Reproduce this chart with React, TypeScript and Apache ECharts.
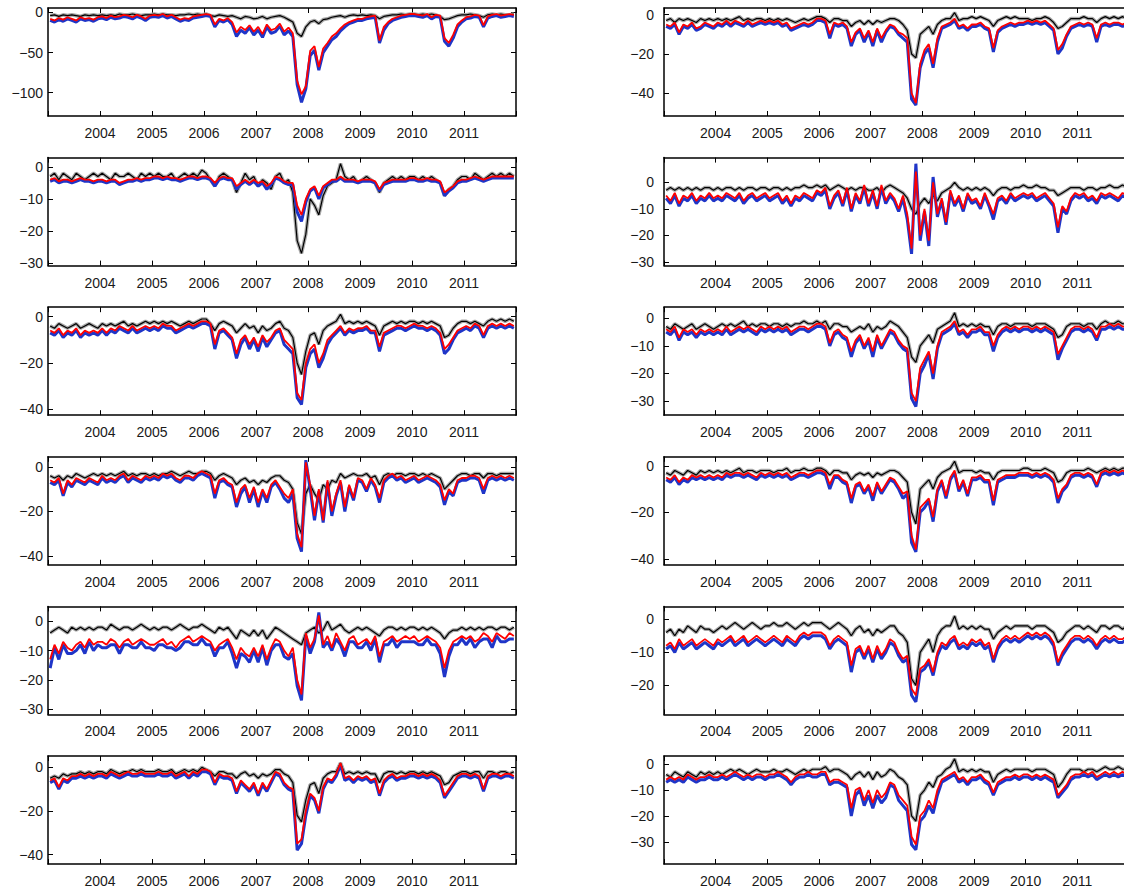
import React, { useEffect, useRef } from "react";
import * as echarts from "echarts";

// Monthly readings, Jan 2003 .. Dec 2011 (108 values each)
const YEAR_TICKS = [2004, 2005, 2006, 2007, 2008, 2009, 2010, 2011];

const L1_BLACK = [-4,-3,-5,-3,-4,-3,-4,-5,-3,-4,-3,-4, -3,-4,-3,-4,-2,-3,-3,-2,-3,-4,-3,-3, -2,-3,-2,-3,-3,-4,-3,-3,-2,-3,-2,-3, -2,-4,-5,-3,-4,-5,-4,-6,-8,-5,-6,-8, -7,-5,-8,-6,-5,-4,-6,-9,-12,-26,-30,-18, -12,-10,-14,-9,-8,-6,-5,-4,-6,-4,-3,-4, -3,-4,-3,-4,-8,-5,-4,-3,-3,-2,-3,-2, -2,-3,-2,-3,-2,-3,-5,-9,-8,-6,-4,-3, -3,-2,-3,-4,-6,-3,-2,-3,-2,-3,-3,-2];
const L1_RED = [-8,-10,-7,-9,-6,-8,-10,-6,-8,-7,-9,-6, -5,-7,-4,-6,-5,-3,-4,-6,-3,-5,-8,-4, -3,-4,-2,-5,-3,-6,-9,-7,-8,-5,-4,-3, -2,-3,-15,-8,-10,-7,-12,-25,-18,-22,-16,-24, -18,-27,-15,-22,-20,-14,-24,-19,-26,-85,-102,-92, -48,-42,-68,-45,-38,-30,-26,-20,-15,-12,-10,-8, -8,-6,-5,-4,-35,-18,-12,-8,-6,-4,-3,-2, -2,-3,-4,-2,-6,-3,-4,-32,-38,-28,-15,-10, -6,-5,-3,-4,-16,-5,-3,-2,-4,-3,-2,-3];
const L1_BLUE = [-10,-12,-9,-11,-8,-10,-12,-8,-10,-9,-11,-8, -7,-9,-6,-8,-7,-5,-6,-8,-5,-7,-10,-6, -5,-6,-4,-7,-5,-8,-11,-9,-10,-7,-6,-5, -4,-5,-18,-10,-12,-9,-15,-30,-22,-26,-19,-28, -22,-31,-18,-26,-24,-17,-28,-23,-30,-90,-112,-95, -54,-47,-72,-50,-42,-34,-30,-23,-18,-14,-12,-10, -10,-8,-7,-6,-38,-22,-14,-10,-8,-6,-5,-4, -4,-5,-6,-4,-8,-5,-6,-36,-42,-32,-18,-12, -8,-7,-5,-6,-18,-7,-5,-4,-6,-5,-4,-5];

const L2_BLACK = [-3,-2,-4,-2,-3,-4,-2,-3,-4,-3,-2,-3, -2,-3,-4,-2,-3,-3,-2,-3,-4,-2,-3,-2, -3,-2,-3,-3,-2,-4,-3,-2,-3,-2,-3,-1, -2,-4,-6,-3,-2,-3,-4,-8,-5,-2,-4,-3, -6,-4,-5,-7,-3,-2,-5,-4,-8,-23,-27,-21, -10,-12,-15,-9,-6,-5,-4,1,-3,-4,-3,-5, -4,-3,-4,-5,-8,-5,-4,-3,-4,-3,-4,-3, -3,-4,-3,-4,-3,-4,-5,-9,-7,-6,-4,-3, -3,-4,-2,-3,-4,-3,-2,-3,-2,-3,-2,-3];
const L2_RED = [-4,-3.5,-4.5,-4,-4,-4.5,-4,-3.5,-4,-4,-4.5,-4, -4,-4.5,-4,-4,-5,-4.5,-4,-4,-3.5,-4,-3.5,-3.5, -3,-3,-3.5,-3,-3.5,-3.5,-4,-3.5,-3,-3,-3.5,-3, -3,-3.5,-5,-3.5,-3,-3.5,-3.5,-6,-5,-4,-5,-4, -5,-4.5,-6,-5,-3,-3.5,-4.5,-5,-5,-12,-15,-10, -7,-6,-9,-6,-5,-4,-4,-3,-4,-4,-4,-4.5, -4,-4,-4,-4.5,-7,-5,-4.5,-4,-4,-4,-4,-3.5, -3.5,-4,-4,-3.5,-4,-4,-4.5,-8,-7,-6,-4.5,-4, -4,-3.5,-3,-3.5,-4,-3.5,-3,-3,-3,-3,-3,-3];
const L2_BLUE = [-4.5,-4,-5,-4.5,-4.5,-5,-4.5,-4,-4.5,-4.5,-5,-4.5, -4.5,-5,-4.5,-4.5,-5.5,-5,-4.5,-4.5,-4,-4.5,-4,-4, -3.5,-3.5,-4,-3.5,-4,-4,-4.5,-4,-3.5,-3.5,-4,-3.5, -3.5,-4,-6,-4,-3.5,-4,-4,-7,-5.5,-4.5,-5.5,-4.5, -6,-5,-7,-5.5,-3.5,-4,-5,-5.5,-5.5,-14,-17,-11, -7.5,-6.5,-10,-6.5,-5.5,-4.5,-4.5,-3.5,-4.5,-4.5,-4.5,-5, -4.5,-4.5,-4.5,-5,-7.5,-5.5,-5,-4.5,-4.5,-4.5,-4.5,-4, -4,-4.5,-4.5,-4,-4.5,-4.5,-5,-9,-7.5,-6.5,-5,-4.5, -4.5,-4,-3.5,-4,-4.5,-4,-3.5,-3.5,-3.5,-3.5,-3.5,-3.5];

const L3_BLACK = [-4,-5,-3,-4,-5,-4,-3,-5,-4,-3,-4,-5, -3,-4,-3,-4,-3,-2,-4,-3,-4,-3,-2,-3, -2,-3,-2,-3,-2,-3,-4,-3,-2,-3,-2,-1, -1,-3,-6,-3,-2,-3,-4,-7,-5,-3,-5,-4, -7,-4,-6,-5,-3,-2,-5,-6,-9,-20,-25,-15, -8,-7,-12,-6,-4,-3,-2,1,-3,-2,-3,-2, -3,-2,-3,-4,-8,-4,-3,-2,-3,-2,-3,-2, -2,-3,-2,-3,-2,-3,-4,-9,-8,-5,-3,-2, -2,-3,-2,-3,-4,-2,-1,-2,-1,-2,-1,-2];
const L3_RED = [-6,-7,-5,-8,-6,-7,-5,-8,-6,-7,-6,-7, -5,-7,-5,-6,-4,-5,-6,-4,-6,-5,-4,-5, -4,-5,-3,-4,-4,-6,-5,-4,-3,-4,-3,-2, -2,-3,-12,-6,-5,-7,-9,-16,-10,-8,-12,-9, -13,-8,-11,-9,-6,-5,-10,-12,-14,-33,-36,-20, -14,-12,-20,-16,-10,-8,-6,-4,-7,-5,-6,-5, -5,-4,-6,-6,-13,-7,-6,-5,-4,-4,-5,-4, -3,-4,-4,-5,-4,-5,-7,-14,-12,-9,-6,-5, -4,-5,-3,-4,-8,-4,-3,-4,-3,-4,-3,-4];
const L3_BLUE = [-7,-8,-6,-9,-7,-8,-6,-9,-7,-8,-7,-8, -6,-8,-6,-7,-5,-6,-7,-5,-7,-6,-5,-6, -5,-6,-4,-5,-5,-7,-6,-5,-4,-5,-4,-3, -3,-4,-14,-7,-6,-8,-10,-18,-12,-9,-14,-10, -15,-9,-13,-10,-7,-6,-12,-14,-16,-35,-38,-22, -16,-14,-22,-18,-12,-9,-7,-5,-8,-6,-7,-6, -6,-5,-7,-7,-15,-8,-7,-6,-5,-5,-6,-5, -4,-5,-5,-6,-5,-6,-8,-16,-14,-10,-7,-6, -5,-6,-4,-5,-9,-5,-4,-5,-4,-5,-4,-5];

const L4_BLACK = [-4,-5,-4,-6,-4,-5,-3,-4,-5,-4,-3,-4, -3,-4,-3,-4,-3,-2,-4,-3,-4,-3,-3,-4, -3,-4,-3,-3,-2,-3,-4,-3,-2,-3,-3,-2, -2,-3,-6,-4,-3,-4,-5,-8,-6,-5,-7,-6, -8,-6,-7,-5,-4,-4,-6,-7,-10,-25,-30,-12, -8,-12,-15,-8,-10,-6,-7,-3,-5,-4,-3,-4, -4,-3,-5,-4,-8,-4,-3,-4,-3,-3,-4,-3, -3,-4,-3,-4,-3,-4,-5,-10,-8,-6,-4,-3, -3,-4,-3,-3,-5,-3,-3,-4,-3,-3,-3,-3];
const L4_RED = [-6,-7,-5,-12,-6,-8,-5,-6,-7,-5,-6,-7, -4,-6,-5,-6,-4,-3,-6,-4,-5,-6,-4,-5, -4,-5,-3,-4,-3,-5,-6,-4,-4,-5,-3,-2, -3,-4,-12,-6,-5,-7,-8,-16,-10,-8,-14,-9, -16,-10,-14,-8,-6,-9,-12,-14,-10,-30,-36,2, -8,-22,-10,-24,-6,-20,-12,-6,-18,-8,-14,-5, -6,-10,-5,-8,-14,-6,-4,-3,-5,-4,-6,-5, -4,-6,-5,-4,-5,-6,-8,-15,-10,-12,-6,-5, -5,-4,-4,-5,-10,-5,-4,-5,-4,-5,-4,-5];
const L4_BLUE = [-7,-8,-6,-13,-7,-9,-6,-7,-8,-6,-7,-8, -5,-7,-6,-7,-5,-4,-7,-5,-6,-7,-5,-6, -5,-6,-4,-5,-4,-6,-7,-5,-5,-6,-4,-3, -4,-5,-14,-7,-6,-8,-9,-18,-12,-9,-16,-10, -18,-11,-16,-9,-7,-10,-14,-16,-12,-32,-38,3, -10,-24,-11,-25,-7,-22,-13,-7,-20,-9,-15,-6, -7,-11,-6,-9,-16,-7,-5,-4,-6,-5,-7,-6, -5,-7,-6,-5,-6,-7,-9,-17,-11,-13,-7,-6, -6,-5,-5,-6,-12,-6,-5,-6,-5,-6,-5,-6];

const L5_BLACK = [-4,-3,-2,-3,-4,-2,-3,-2,-3,-2,-3,-2, -2,-3,-1,-2,-3,-2,-2,-3,-2,-1,-2,-3, -2,-3,-2,-2,-3,-2,-1,-2,-3,-2,-2,-1, -2,-3,-4,-2,-3,-2,-4,-6,-3,-4,-5,-3, -5,-3,-6,-4,-2,-3,-4,-5,-6,-7,-8,-4, -3,-2,-4,-3,0,-3,-2,-1,-3,-4,-3,-2, -3,-2,-3,-4,-5,-3,-2,-2,-3,-2,-3,-2, -2,-3,-2,-3,-2,-3,-4,-6,-4,-3,-3,-2, -3,-2,-3,-2,-3,-2,-2,-3,-2,-2,-3,-2];
const L5_RED = [-13,-8,-11,-7,-9,-10,-8,-7,-9,-6,-8,-7, -7,-8,-6,-7,-9,-7,-6,-8,-7,-6,-7,-8, -8,-7,-6,-8,-7,-9,-7,-6,-5,-7,-6,-5, -6,-7,-10,-8,-7,-6,-9,-13,-9,-11,-12,-9, -12,-8,-13,-9,-6,-7,-10,-12,-9,-20,-25,-4, -9,-6,2,-8,-5,-9,-4,-7,-10,-6,-5,-8, -7,-6,-8,-5,-12,-7,-6,-5,-7,-6,-5,-6, -5,-7,-6,-5,-6,-7,-9,-16,-10,-7,-6,-5, -6,-5,-7,-6,-4,-5,-7,-4,-5,-6,-4,-5];
const L5_BLUE = [-16,-9,-13,-8,-11,-11,-10,-8,-11,-7,-10,-8, -9,-9,-8,-8,-11,-8,-8,-9,-9,-7,-9,-9, -10,-8,-8,-9,-9,-10,-9,-7,-7,-8,-8,-6, -8,-8,-12,-9,-9,-7,-11,-16,-11,-12,-14,-10, -14,-9,-15,-10,-8,-8,-12,-13,-11,-22,-27,-5, -11,-7,3,-9,-7,-10,-6,-8,-12,-7,-7,-9, -9,-7,-10,-6,-14,-8,-8,-6,-9,-7,-7,-7, -7,-8,-8,-6,-8,-8,-11,-19,-12,-8,-8,-6, -8,-6,-9,-7,-6,-6,-9,-5,-7,-7,-6,-6];

const L6_BLACK = [-5,-4,-5,-3,-4,-3,-3,-2,-3,-2,-3,-2, -2,-3,-1,-2,-3,-2,-2,-1,-2,-1,-2,-2, -2,-1,-2,-2,-1,-3,-2,-1,-2,-1,-2,0, -1,-2,-4,-2,-2,-3,-3,-5,-3,-2,-4,-3, -5,-3,-4,-3,-1,-1,-3,-4,-7,-22,-25,-15, -8,-7,-12,-5,-3,-2,-2,2,-3,-2,-3,-2, -3,-2,-3,-3,-7,-3,-2,-2,-3,-2,-3,-2, -2,-3,-2,-3,-2,-3,-4,-8,-7,-4,-3,-2, -2,-3,-2,-2,-5,-2,-2,-3,-2,-2,-3,-2];
const L6_RED = [-6,-5,-9,-5,-6,-4,-4,-3,-4,-3,-4,-3, -3,-4,-2,-3,-4,-3,-2,-3,-3,-2,-3,-3, -3,-2,-3,-3,-2,-4,-3,-2,-4,-2,-3,-1, -1,-2,-7,-3,-4,-4,-5,-11,-6,-8,-10,-7, -12,-7,-10,-6,-2,-3,-7,-9,-10,-35,-33,-20, -12,-14,-20,-9,-5,-6,-3,2,-5,-4,-6,-4, -5,-4,-6,-5,-12,-6,-4,-3,-5,-4,-4,-3, -3,-4,-3,-4,-3,-4,-6,-13,-10,-7,-4,-3, -3,-4,-3,-4,-10,-4,-3,-3,-4,-3,-3,-4];
const L6_BLUE = [-7,-6,-10,-6,-7,-5,-5,-4,-5,-4,-5,-4, -4,-5,-3,-4,-5,-4,-3,-4,-4,-3,-4,-4, -4,-3,-4,-4,-3,-5,-4,-3,-5,-3,-4,-2, -2,-3,-8,-4,-5,-5,-6,-12,-7,-9,-11,-8, -13,-8,-11,-7,-3,-4,-8,-10,-11,-38,-35,-22, -13,-15,-21,-10,-6,-7,-4,1,-6,-5,-7,-5, -6,-5,-7,-6,-13,-7,-5,-4,-6,-5,-5,-4, -4,-5,-4,-5,-4,-5,-7,-14,-11,-8,-5,-4, -4,-5,-4,-5,-11,-5,-4,-4,-5,-4,-4,-5];

const R1_BLACK = [-3,-2,-4,-2,-3,-2,-3,-4,-2,-3,-2,-3, -2,-3,-2,-3,-2,-1,-3,-2,-3,-2,-2,-3, -2,-3,-2,-3,-2,-3,-4,-3,-2,-3,-2,-1, -1,-2,-4,-2,-2,-3,-3,-6,-4,-3,-5,-3, -5,-3,-4,-3,-2,-2,-3,-5,-8,-20,-22,-10, -8,-6,-10,-5,-3,-2,-2,1,-3,-2,-2,-1, -2,-1,-2,-3,-6,-3,-2,-1,-2,-1,-2,-2, -2,-3,-2,-2,-1,-2,-4,-7,-6,-4,-2,-2, -2,-1,-2,-2,-4,-2,-1,-2,-1,-2,-1,-2];
const R1_RED = [-5,-6,-4,-9,-5,-6,-4,-7,-6,-4,-5,-6, -4,-5,-3,-5,-3,-4,-5,-3,-5,-4,-3,-4, -3,-4,-3,-5,-4,-7,-6,-5,-4,-5,-4,-2, -2,-3,-10,-4,-5,-4,-6,-14,-9,-7,-12,-8, -14,-7,-12,-8,-5,-6,-9,-10,-12,-40,-45,-25, -18,-15,-25,-12,-6,-5,-4,-2,-6,-5,-7,-5, -5,-4,-6,-7,-17,-8,-6,-5,-4,-5,-4,-4, -3,-4,-3,-4,-3,-5,-7,-18,-15,-10,-6,-5, -4,-5,-4,-5,-12,-5,-4,-5,-4,-4,-5,-4];
const R1_BLUE = [-6,-7,-5,-10,-6,-7,-5,-8,-7,-5,-6,-7, -5,-6,-4,-6,-4,-5,-6,-4,-6,-5,-4,-5, -4,-5,-4,-6,-5,-8,-7,-6,-5,-6,-5,-3, -3,-4,-12,-5,-6,-5,-7,-16,-10,-8,-14,-9, -16,-8,-14,-9,-6,-7,-10,-12,-14,-43,-46,-27, -20,-17,-27,-14,-7,-6,-5,-3,-7,-6,-8,-6, -6,-5,-7,-8,-19,-9,-7,-6,-5,-6,-5,-5, -4,-5,-4,-5,-4,-6,-8,-20,-17,-11,-7,-6, -5,-6,-5,-6,-14,-6,-5,-6,-5,-5,-6,-5];

const R2_BLACK = [-3,-2,-3,-2,-3,-2,-3,-2,-3,-2,-2,-3, -2,-3,-2,-2,-3,-2,-3,-2,-2,-3,-2,-2, -3,-2,-2,-3,-2,-3,-2,-2,-1,-2,-2,-1, -2,-1,-3,-2,-1,-2,-3,-2,-3,-2,-2,-3, -3,-2,-4,-2,-1,-2,-3,-4,-6,-10,-12,-8, -6,-8,-5,-7,-4,-3,-2,0,-2,-3,-2,-3, -2,-3,-2,-3,-5,-3,-2,-2,-3,-2,-2,-1, -2,-2,-1,-2,-2,-3,-3,-5,-4,-3,-2,-2, -2,-3,-2,-2,-3,-2,-2,-1,-2,-2,-1,-2];
const R2_RED = [-5,-7,-4,-8,-5,-6,-4,-7,-5,-6,-4,-6, -5,-6,-4,-5,-6,-4,-7,-5,-4,-6,-5,-4, -6,-5,-4,-7,-5,-8,-5,-6,-4,-5,-6,-3, -4,-2,-9,-5,-3,-8,-2,-10,-4,-7,-1,-8, -3,-9,-1,-7,-4,-6,-10,-5,-12,-25,4,-20, -10,-22,0,-12,-6,-15,-3,-8,-5,-10,-4,-7, -6,-9,-4,-8,-12,-6,-5,-7,-4,-6,-5,-4, -5,-4,-6,-5,-4,-6,-8,-17,-9,-11,-6,-4, -5,-4,-6,-5,-7,-4,-5,-4,-5,-6,-4,-5];
const R2_BLUE = [-6,-8,-5,-9,-6,-7,-5,-8,-6,-7,-5,-7, -6,-7,-5,-6,-7,-5,-8,-6,-5,-7,-6,-5, -7,-6,-5,-8,-6,-9,-6,-7,-5,-6,-7,-4, -5,-3,-10,-6,-4,-9,-3,-11,-5,-8,-2,-9, -4,-10,-2,-8,-5,-7,-11,-6,-14,-27,7,-22, -11,-24,2,-13,-7,-16,-4,-9,-6,-11,-5,-8, -7,-10,-5,-9,-14,-7,-6,-8,-5,-7,-6,-5, -6,-5,-7,-6,-5,-7,-9,-19,-10,-12,-7,-5, -6,-5,-7,-6,-8,-5,-6,-5,-6,-7,-5,-6];

const R3_BLACK = [-3,-4,-2,-3,-4,-3,-2,-4,-3,-2,-3,-4, -3,-2,-3,-2,-3,-2,-1,-3,-2,-3,-2,-2, -3,-2,-2,-3,-2,-3,-2,-2,-1,-2,-2,-1, -2,-1,-4,-2,-2,-3,-3,-5,-4,-3,-4,-2, -5,-3,-4,-3,-1,-2,-3,-5,-7,-14,-16,-10, -8,-6,-9,-4,-3,-2,-1,2,-3,-2,-3,-2, -3,-2,-3,-3,-6,-3,-2,-2,-3,-2,-2,-2, -2,-3,-2,-2,-2,-3,-4,-7,-6,-3,-2,-2, -2,-3,-2,-2,-4,-2,-1,-2,-2,-1,-2,-2];
const R3_RED = [-4,-5,-3,-7,-4,-5,-4,-6,-4,-5,-4,-5, -4,-5,-3,-5,-4,-3,-4,-3,-4,-5,-3,-4, -3,-4,-3,-4,-3,-5,-4,-3,-3,-4,-3,-2, -2,-3,-9,-5,-4,-6,-7,-12,-8,-6,-10,-7, -12,-6,-10,-7,-4,-5,-8,-10,-11,-27,-30,-18, -15,-12,-20,-10,-5,-4,-3,-1,-5,-4,-6,-4, -4,-3,-5,-5,-10,-6,-4,-3,-4,-3,-4,-3, -3,-4,-3,-4,-3,-4,-5,-13,-10,-7,-4,-3, -3,-4,-3,-4,-7,-3,-3,-2,-3,-2,-3,-3];
const R3_BLUE = [-5,-6,-4,-8,-5,-6,-5,-7,-5,-6,-5,-6, -5,-6,-4,-6,-5,-4,-5,-4,-5,-6,-4,-5, -4,-5,-4,-5,-4,-6,-5,-4,-4,-5,-4,-3, -3,-4,-10,-6,-5,-7,-8,-14,-9,-7,-11,-8, -14,-7,-11,-8,-5,-6,-9,-11,-12,-29,-32,-20, -17,-13,-22,-11,-6,-5,-4,-2,-6,-5,-7,-5, -5,-4,-6,-6,-12,-7,-5,-4,-5,-4,-5,-4, -4,-5,-4,-5,-4,-5,-6,-15,-11,-8,-5,-4, -4,-5,-4,-5,-8,-4,-4,-3,-4,-3,-4,-4];

const R4_BLACK = [-3,-4,-2,-3,-4,-2,-3,-4,-2,-3,-2,-3, -2,-3,-2,-3,-2,-1,-3,-2,-2,-3,-2,-2, -2,-3,-2,-2,-1,-3,-2,-2,-1,-2,-2,-1, -1,-2,-4,-2,-2,-3,-3,-6,-4,-3,-4,-3, -5,-3,-4,-3,-2,-2,-3,-5,-7,-20,-25,-10, -8,-6,-10,-5,-3,-2,-1,2,-3,-2,-2,-2, -3,-2,-3,-3,-6,-3,-2,-2,-2,-2,-2,-1, -1,-2,-2,-2,-1,-2,-3,-7,-6,-3,-2,-2, -2,-2,-1,-2,-3,-2,-1,-2,-1,-2,-1,-1];
const R4_RED = [-5,-6,-4,-7,-5,-6,-4,-5,-4,-5,-4,-5, -4,-5,-3,-4,-3,-3,-4,-3,-4,-5,-3,-4, -3,-4,-3,-4,-3,-5,-4,-3,-3,-4,-3,-2, -2,-3,-8,-4,-4,-6,-7,-14,-8,-7,-11,-8, -13,-7,-11,-8,-5,-6,-9,-12,-11,-30,-36,-18, -16,-14,-22,-10,-6,-13,-5,-2,-10,-6,-12,-5, -5,-4,-6,-6,-15,-6,-5,-4,-4,-4,-3,-3, -3,-4,-3,-4,-3,-4,-6,-14,-10,-8,-4,-3, -3,-4,-3,-4,-8,-3,-2,-3,-2,-3,-2,-3];
const R4_BLUE = [-6,-7,-5,-8,-6,-7,-5,-6,-5,-6,-5,-6, -5,-6,-4,-5,-4,-4,-5,-4,-5,-6,-4,-5, -4,-5,-4,-5,-4,-6,-5,-4,-4,-5,-4,-3, -3,-4,-10,-5,-5,-7,-8,-16,-9,-8,-12,-9, -15,-8,-12,-9,-6,-7,-10,-14,-12,-33,-37,-20, -18,-15,-24,-11,-7,-14,-6,-3,-11,-7,-13,-6, -6,-5,-7,-7,-17,-7,-6,-5,-5,-5,-4,-4, -4,-5,-4,-5,-4,-5,-7,-16,-11,-9,-5,-4, -4,-5,-4,-5,-9,-4,-3,-4,-3,-4,-3,-4];

const R5_BLACK = [-4,-3,-5,-3,-4,-2,-3,-4,-2,-3,-3,-4, -3,-2,-3,-2,-1,-2,-3,-2,-1,-2,-3,-2, -2,-1,-2,-2,-1,-2,-3,-2,-1,-2,-1,-1, -1,-2,-3,-2,-1,-2,-3,-5,-3,-2,-4,-3, -5,-3,-4,-3,-2,-2,-4,-5,-7,-18,-20,-10, -8,-6,-10,-5,-3,-2,-2,1,-3,-2,-3,-2, -3,-2,-3,-3,-6,-4,-3,-2,-3,-2,-2,-2, -2,-3,-2,-2,-2,-3,-4,-7,-6,-4,-3,-2, -2,-3,-2,-3,-4,-2,-2,-3,-2,-2,-3,-2];
const R5_RED = [-8,-7,-9,-6,-8,-7,-6,-8,-7,-6,-7,-8, -6,-7,-6,-5,-7,-6,-5,-7,-6,-5,-6,-7, -6,-5,-6,-7,-5,-6,-7,-5,-4,-5,-4,-4, -4,-5,-8,-6,-5,-6,-7,-14,-9,-8,-11,-8, -12,-8,-11,-9,-6,-7,-10,-12,-11,-21,-23,-15, -14,-12,-16,-10,-7,-8,-6,-5,-8,-7,-8,-6, -7,-6,-8,-7,-12,-8,-6,-5,-6,-5,-6,-5, -4,-5,-4,-5,-4,-5,-7,-13,-10,-8,-6,-5, -5,-6,-5,-6,-8,-6,-5,-6,-5,-6,-6,-5];
const R5_BLUE = [-9,-8,-10,-7,-9,-8,-7,-9,-8,-7,-8,-9, -7,-8,-7,-6,-8,-7,-6,-8,-7,-6,-7,-8, -7,-6,-7,-8,-6,-7,-8,-6,-5,-6,-5,-5, -5,-6,-9,-7,-6,-7,-8,-16,-10,-9,-12,-9, -13,-9,-12,-10,-7,-8,-11,-13,-12,-23,-25,-16, -15,-13,-17,-11,-8,-9,-7,-6,-9,-8,-9,-7, -8,-7,-9,-8,-13,-9,-7,-6,-7,-6,-7,-6, -5,-6,-5,-6,-5,-6,-8,-14,-11,-9,-7,-6, -6,-7,-6,-7,-9,-7,-6,-7,-6,-7,-7,-6];

const R6_BLACK = [-4,-5,-3,-4,-5,-3,-4,-5,-3,-4,-3,-4, -3,-4,-3,-2,-3,-2,-3,-4,-3,-2,-3,-3, -3,-2,-3,-3,-2,-3,-4,-3,-2,-3,-2,-2, -2,-1,-3,-2,-2,-3,-4,-6,-4,-3,-5,-3, -6,-3,-5,-4,-2,-3,-5,-6,-8,-20,-22,-12, -10,-7,-9,-5,-4,-2,-1,2,-3,-2,-3,-2, -3,-2,-3,-3,-7,-4,-3,-2,-3,-2,-2,-2, -2,-3,-2,-2,-2,-3,-4,-9,-7,-4,-2,-2, -2,-3,-2,-2,-3,-2,-1,-2,-2,-1,-2,-2];
const R6_RED = [-6,-5,-6,-5,-6,-4,-5,-6,-5,-5,-4,-5, -5,-4,-5,-4,-3,-4,-5,-4,-5,-4,-4,-5, -4,-4,-3,-4,-5,-7,-5,-4,-4,-3,-4,-4, -3,-3,-7,-6,-6,-7,-8,-17,-10,-9,-14,-10, -15,-10,-13,-11,-7,-8,-12,-14,-16,-28,-31,-20, -18,-14,-17,-10,-6,-5,-4,-3,-6,-5,-7,-5, -5,-4,-6,-7,-11,-7,-6,-5,-5,-4,-5,-4, -4,-5,-4,-5,-4,-5,-6,-12,-10,-8,-5,-4, -4,-3,-4,-3,-5,-4,-3,-4,-3,-4,-3,-4];
const R6_BLUE = [-7,-6,-7,-6,-7,-5,-6,-7,-6,-6,-5,-6, -6,-5,-6,-5,-4,-5,-6,-5,-6,-5,-5,-6, -5,-5,-4,-5,-6,-8,-6,-5,-5,-4,-5,-5, -4,-4,-8,-7,-7,-8,-9,-20,-12,-10,-16,-12, -17,-12,-15,-13,-8,-9,-14,-16,-18,-31,-33,-22, -20,-16,-19,-12,-7,-6,-5,-4,-7,-6,-8,-6, -6,-5,-7,-8,-12,-8,-7,-6,-6,-5,-6,-5, -5,-6,-5,-6,-5,-6,-7,-13,-11,-9,-6,-5, -5,-4,-5,-4,-6,-5,-4,-5,-4,-5,-4,-5];

// y-axis tick labels per panel
const L1_TICKS = [0, -50, -100];
const L2_TICKS = [0, -10, -20, -30];
const L3_TICKS = [0, -20, -40];
const L4_TICKS = [0, -20, -40];
const L5_TICKS = [0, -10, -20, -30];
const L6_TICKS = [0, -20, -40];
const R1_TICKS = [0, -20, -40];
const R2_TICKS = [0, -10, -20, -30];
const R3_TICKS = [0, -10, -20, -30];
const R4_TICKS = [0, -20, -40];
const R5_TICKS = [0, -10, -20];
const R6_TICKS = [0, -10, -20, -30];

const PANELS = [
  { col: 0, row: 0, black: L1_BLACK, red: L1_RED, blue: L1_BLUE, ticks: L1_TICKS, min: -129, max: 5.5 },
  { col: 0, row: 1, black: L2_BLACK, red: L2_RED, blue: L2_BLUE, ticks: L2_TICKS, min: -30.8, max: 2.9 },
  { col: 0, row: 2, black: L3_BLACK, red: L3_RED, blue: L3_BLUE, ticks: L3_TICKS, min: -42.6, max: 4.1 },
  { col: 0, row: 3, black: L4_BLACK, red: L4_RED, blue: L4_BLUE, ticks: L4_TICKS, min: -43.9, max: 4.5 },
  { col: 0, row: 4, black: L5_BLACK, red: L5_RED, blue: L5_BLUE, ticks: L5_TICKS, min: -31.8, max: 5.1 },
  { col: 0, row: 5, black: L6_BLACK, red: L6_RED, blue: L6_BLUE, ticks: L6_TICKS, min: -44.3, max: 5.2 },
  { col: 1, row: 0, black: R1_BLACK, red: R1_RED, blue: R1_BLUE, ticks: R1_TICKS, min: -51.6, max: 3.4 },
  { col: 1, row: 1, black: R2_BLACK, red: R2_RED, blue: R2_BLUE, ticks: R2_TICKS, min: -31.4, max: 9.3 },
  { col: 1, row: 2, black: R3_BLACK, red: R3_RED, blue: R3_BLUE, ticks: R3_TICKS, min: -35.1, max: 4.0 },
  { col: 1, row: 3, black: R4_BLACK, red: R4_RED, blue: R4_BLUE, ticks: R4_TICKS, min: -42.6, max: 3.9 },
  { col: 1, row: 4, black: R5_BLACK, red: R5_RED, blue: R5_BLUE, ticks: R5_TICKS, min: -28.8, max: 3.9 },
  { col: 1, row: 5, black: R6_BLACK, red: R6_RED, blue: R6_BLUE, ticks: R6_TICKS, min: -38.5, max: 3.1 },
];

const FONT = "'Liberation Sans', Arial, Helvetica, sans-serif";
const AXIS_LINE = { show: true, onZero: false, lineStyle: { color: "#000", width: 1.5 } };
const TICK_STYLE = { color: "#000", width: 1 };

function toPoints(values: number[]) {
  return values.map((v, i) => [2003 + (i + 0.5) / 12, v]);
}

function buildOption() {
  const grid: any[] = [];
  const xAxis: any[] = [];
  const yAxis: any[] = [];
  const series: any[] = [];
  PANELS.forEach((p, k) => {
    grid.push({
      left: p.col === 0 ? 48 : 664,
      width: p.col === 0 ? 468 : 465,
      top: 8 + p.row * 149.6,
      height: 108,
      containLabel: false,
      outerBoundsMode: "none",
    });
    const xBase = {
      gridIndex: k,
      type: "value",
      min: 2003,
      max: 2012,
      interval: 1,
      axisLine: AXIS_LINE,
      axisTick: { show: true, inside: true, length: 5, lineStyle: TICK_STYLE },
      splitLine: { show: false },
    };
    xAxis.push({
      ...xBase,
      position: "bottom",
      axisLabel: {
        show: true,
        fontSize: 14,
        color: "#1a1a1a",
        fontFamily: FONT,
        margin: 10,
        formatter: (v: number) => (YEAR_TICKS.indexOf(Math.round(v)) >= 0 ? String(Math.round(v)) : ""),
      },
    });
    xAxis.push({ ...xBase, position: "top", axisLabel: { show: false } });
    const yBase = {
      gridIndex: k,
      type: "value",
      min: p.min,
      max: p.max,
      axisLine: AXIS_LINE,
      splitLine: { show: false },
    };
    yAxis.push({
      ...yBase,
      position: "left",
      axisTick: { show: true, inside: true, length: 5, lineStyle: TICK_STYLE, customValues: p.ticks },
      axisLabel: {
        show: true,
        customValues: p.ticks,
        fontSize: 14,
        color: "#1a1a1a",
        fontFamily: FONT,
        margin: p.col === 0 ? 5 : 10,
        formatter: (v: number) => String(v).replace("-", "\u2212"),
      },
    });
    yAxis.push({
      ...yBase,
      position: "right",
      axisTick: { show: true, inside: true, length: 5, lineStyle: TICK_STYLE, customValues: p.ticks },
      axisLabel: { show: false },
    });
    const common = {
      type: "line",
      xAxisIndex: 2 * k,
      yAxisIndex: 2 * k,
      symbol: "none",
      silent: true,
      clip: true,
    };
    series.push({ ...common, data: toPoints(p.black), lineStyle: { color: "#a8a8a8", width: 3.6 } });
    series.push({ ...common, data: toPoints(p.black), lineStyle: { color: "#000", width: 1.2 } });
    series.push({ ...common, data: toPoints(p.blue), lineStyle: { color: "#1f35c8", width: 3 } });
    series.push({ ...common, data: toPoints(p.red), lineStyle: { color: "#ff0000", width: 1.8 } });
  });
  return {
    animation: false,
    backgroundColor: "#ffffff",
    grid,
    xAxis,
    yAxis,
    series,
  };
}

export default function App() {
  const ref = useRef<HTMLDivElement>(null);
  useEffect(() => {
    if (!ref.current) return;
    const chart = echarts.init(ref.current, undefined, { renderer: "svg" });
    chart.setOption(buildOption() as any);
    return () => chart.dispose();
  }, []);
  return (
    <div
      ref={ref}
      style={{ position: "fixed", left: 0, top: 0, width: 1124, height: 888, background: "#fff" }}
    />
  );
}
